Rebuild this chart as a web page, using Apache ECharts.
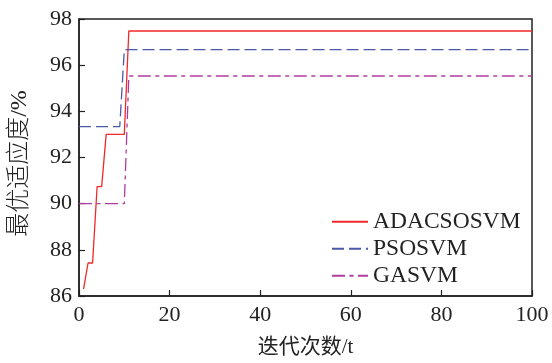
<!DOCTYPE html>
<html><head><meta charset="utf-8">
<script src="https://cdn.jsdelivr.net/npm/echarts@6/dist/echarts.min.js"></script>
<style>html,body{margin:0;padding:0;background:#fff}#c{width:552px;height:363px}</style>
</head><body><div id="c"></div>
<script>
// Breakpoints of each curve (iteration, best fitness %)
const adaT = [1, 2, 3, 4, 5, 6, 10, 11, 100];
const adaV = [86.3, 87.43, 87.43, 90.74, 90.74, 93.0, 93.0, 97.48, 97.48];
const psoT = [0, 9, 10, 100];
const psoV = [93.34, 93.34, 96.67, 96.67];
const gaT = [0, 10, 11, 100];
const gaV = [90.0, 90.0, 95.53, 95.53];
const seriesNames = ['ADACSOSVM', 'PSOSVM', 'GASVM'];
const xTicks = [0, 20, 40, 60, 80, 100];
const yTicks = [86, 88, 90, 92, 94, 96, 98];

const pairs = (t, v) => t.map((x, i) => [x, v[i]]);
const FONT = 'Liberation Serif, "Noto Sans CJK SC", serif';
const chart = echarts.init(document.getElementById('c'));
chart.setOption({
  animation: false,
  grid: { left: 77, right: 20, top: 19, bottom: 63, show: true, borderColor: '#222', borderWidth: 1.5, containLabel: false },
  legend: {
    orient: 'vertical', left: 326, top: 205, itemWidth: 36, itemHeight: 14, itemGap: 3.5,
    itemStyle: { color: 'rgba(0,0,0,0)', borderColor: 'rgba(0,0,0,0)', borderWidth: 0 },
    textStyle: { fontFamily: FONT, fontSize: 23.5, color: '#222', lineHeight: 23, padding: [0, 0, 0, 0] },
    data: seriesNames
  },
  xAxis: {
    type: 'value', min: xTicks[0], max: xTicks[xTicks.length - 1], interval: 20,
    name: '迭代次数/t', nameLocation: 'middle', nameGap: 41,
    nameTextStyle: { fontFamily: FONT, fontSize: 21, color: '#222' },
    axisLine: { show: true, lineStyle: { color: '#222', width: 1.5 } },
    axisTick: { show: true, inside: true, length: 6, lineStyle: { color: '#222', width: 1.2 } },
    axisLabel: { fontFamily: FONT, fontSize: 22, color: '#222', margin: 8 },
    splitLine: { show: false }
  },
  yAxis: {
    type: 'value', min: yTicks[0], max: yTicks[yTicks.length - 1], interval: 2,
    name: '最优适应度/%', nameLocation: 'middle', nameGap: 47, nameRotate: 90,
    nameTextStyle: { fontFamily: FONT, fontSize: 24, color: '#222', fontWeight: 300, padding: [0, 12, 0, 0] },
    axisLine: { show: true, lineStyle: { color: '#222', width: 1.5 } },
    axisTick: { show: true, inside: true, length: 6, lineStyle: { color: '#222', width: 1.2 } },
    axisLabel: { fontFamily: FONT, fontSize: 22, color: '#222', margin: 7 },
    splitLine: { show: false }
  },
  series: [
    { name: seriesNames[0], type: 'line', symbol: 'none', data: pairs(adaT, adaV),
      lineStyle: { color: '#f02828', width: 1.3 }, itemStyle: { color: '#f02828' } },
    { name: seriesNames[1], type: 'line', symbol: 'none', data: pairs(psoT, psoV),
      lineStyle: { color: '#4a5aa6', width: 1.3, type: [12, 5] }, itemStyle: { color: '#4a5aa6' } },
    { name: seriesNames[2], type: 'line', symbol: 'none', data: pairs(gaT, gaV),
      lineStyle: { color: '#b03ca0', width: 1.3, type: [13, 4.5, 4, 4.5] }, itemStyle: { color: '#b03ca0' } }
  ]
});
</script></body></html>
